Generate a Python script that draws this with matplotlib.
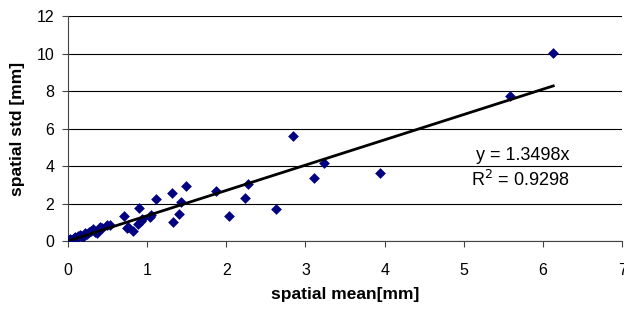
import numpy as np
import matplotlib
matplotlib.use('Agg')
import matplotlib.pyplot as plt

plt.rcParams['font.family'] = ['Liberation Sans', 'DejaVu Sans']

# spatial mean [mm] vs spatial std [mm]
mean_mm = [0.00, 0.01, 0.02, 0.03, 0.04, 0.06, 0.08, 0.09, 0.11, 0.13, 0.15, 0.17,
           0.19, 0.21, 0.24, 0.26, 0.29, 0.32, 0.34, 0.36, 0.40, 0.43, 0.49, 0.53,
           0.71, 0.74, 0.76, 0.82, 0.88, 0.90, 0.92, 0.93, 1.04, 1.05, 1.11, 1.31,
           1.32, 1.40, 1.43, 1.49, 1.87, 2.03, 2.24, 2.27, 2.63, 2.84, 3.11, 3.24,
           3.94, 5.58, 6.13]
std_mm = [0.00, 0.03, 0.06, 0.10, 0.05, 0.12, 0.15, 0.20, 0.18, 0.26, 0.32, 0.25,
          0.23, 0.44, 0.38, 0.50, 0.55, 0.62, 0.48, 0.41, 0.76, 0.68, 0.85, 0.85,
          1.33, 0.67, 0.73, 0.53, 0.89, 1.77, 1.06, 1.20, 1.29, 1.40, 2.22, 2.57,
          0.99, 1.42, 2.06, 2.94, 2.68, 1.35, 2.27, 3.02, 1.72, 5.60, 3.37, 4.16,
          3.65, 7.75, 10.05]

slope = 1.3498
r_squared = 0.9298

fig = plt.figure(figsize=(6.24, 3.09), dpi=100)
ax = fig.add_axes([0.109, 0.22, 0.888, 0.728])

ax.scatter(mean_mm, std_mm, marker='D', s=30, color='#000080', linewidths=0, zorder=3)
x_fit = np.array([0, max(mean_mm)])
ax.plot(x_fit, slope * x_fit, color='black', linewidth=2, zorder=4)

ax.set_xlim(0, 7)
ax.set_ylim(0, 12)
ax.set_xticks(range(0, 8))
ax.set_yticks(range(0, 13, 2))
ax.yaxis.grid(True, color='black', linewidth=0.8)
ax.set_axisbelow(True)
for s in ['top', 'right']:
    ax.spines[s].set_visible(False)
ax.spines['left'].set_color('#444444')
ax.spines['bottom'].set_color('#444444')
ax.tick_params(axis='both', labelsize=11.5, length=4, color='#444444')
ax.tick_params(axis='x', pad=12)
ax.tick_params(axis='y', pad=6)

ax.set_xlabel('spatial mean[mm]', fontsize=12.5, fontweight='bold', labelpad=6)
ax.set_ylabel('spatial std [mm]', fontsize=12.5, fontweight='bold', labelpad=8)

ax.text(6.34, 4.57, f'y = {slope}x', ha='right', va='center', fontsize=13)
ax.text(6.34, 3.24, f'R$^2$ = {r_squared}', ha='right', va='center', fontsize=13)

fig.savefig('out.png', dpi=100, facecolor='white')
